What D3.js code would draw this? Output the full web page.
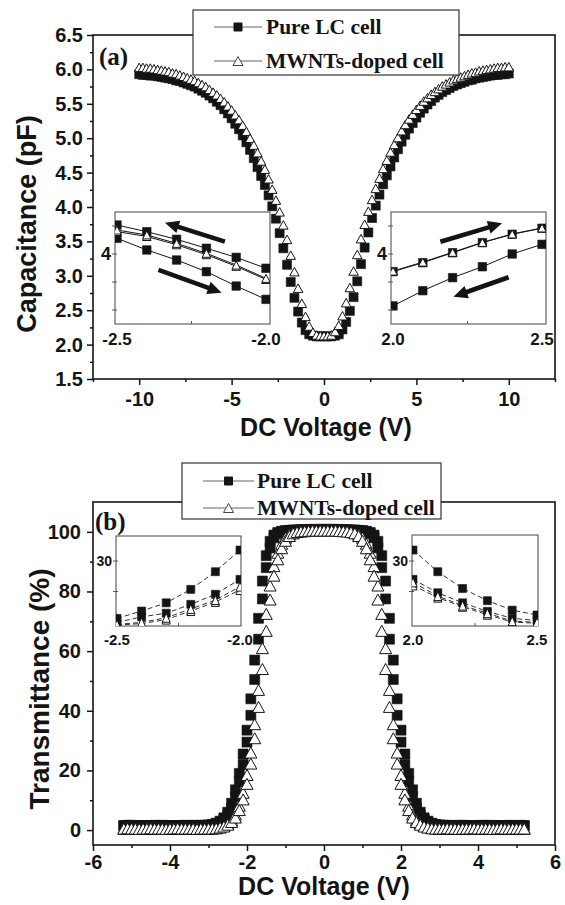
<!DOCTYPE html>
<html><head><meta charset="utf-8">
<script src="https://cdn.jsdelivr.net/npm/d3@7/dist/d3.min.js"></script>
<style>html,body{margin:0;padding:0;background:#fff;}svg{display:block;}</style>
</head><body>
<svg id="chart" width="565" height="905"></svg>
<script>
// ---------------- DATA ----------------
// Panel (a): capacitance vs DC voltage
const voltageA = [-10,-9.8,-9.6,-9.4,-9.2,-9,-8.8,-8.6,-8.4,-8.2,-8,-7.8,-7.6,-7.4,-7.2,-7,-6.8,-6.6,-6.4,-6.2,-6,-5.8,-5.6,-5.4,-5.2,-5,-4.8,-4.6,-4.4,-4.2,-4,-3.8,-3.6,-3.4,-3.2,-3,-2.8,-2.6,-2.4,-2.2,-2,-1.8,-1.6,-1.4,-1.2,-1,-0.8,-0.6,-0.4,-0.2,0,0.2,0.4,0.6,0.8,1,1.2,1.4,1.6,1.8,2,2.2,2.4,2.6,2.8,3,3.2,3.4,3.6,3.8,4,4.2,4.4,4.6,4.8,5,5.2,5.4,5.6,5.8,6,6.2,6.4,6.6,6.8,7,7.2,7.4,7.6,7.8,8,8.2,8.4,8.6,8.8,9,9.2,9.4,9.6,9.8,10];
const capPure = [5.93,5.92,5.92,5.91,5.91,5.90,5.89,5.88,5.87,5.86,5.84,5.83,5.81,5.79,5.77,5.75,5.72,5.69,5.66,5.62,5.58,5.53,5.48,5.42,5.36,5.29,5.21,5.13,5.04,4.94,4.83,4.71,4.58,4.45,4.32,4.17,4.01,3.83,3.62,3.40,3.16,2.91,2.68,2.48,2.32,2.21,2.15,2.13,
  2.12,2.12,2.12,2.12,2.12,
  2.13,2.15,2.22,2.33,2.49,2.69,2.92,3.17,3.41,3.63,3.84,4.02,4.18,4.33,4.46,4.59,4.72,4.84,4.95,5.05,5.14,5.22,5.30,5.37,5.43,5.49,5.54,5.59,5.63,5.67,5.70,5.73,5.76,5.78,5.80,5.82,5.84,5.85,5.87,5.88,5.89,5.90,5.91,5.92,5.92,5.93,5.93,5.94];
const capDoped = [6.03,6.03,6.02,6.02,6.01,6.00,5.99,5.98,5.97,5.95,5.94,5.92,5.90,5.88,5.86,5.84,5.81,5.78,5.75,5.71,5.67,5.63,5.58,5.53,5.47,5.41,5.34,5.27,5.19,5.10,5.00,4.90,4.79,4.67,4.55,4.41,4.26,4.10,3.93,3.74,3.53,3.30,3.06,2.82,2.60,2.41,2.27,2.18,
  2.14,2.13,2.13,2.13,2.14,
  2.19,2.28,2.42,2.61,2.83,3.07,3.31,3.54,3.75,3.94,4.11,4.27,4.42,4.56,4.68,4.80,4.91,5.01,5.11,5.20,5.28,5.35,5.42,5.48,5.54,5.59,5.64,5.68,5.72,5.76,5.79,5.82,5.85,5.87,5.89,5.91,5.93,5.95,5.96,5.98,5.99,6.00,6.01,6.02,6.03,6.03,6.04,6.04];

// Panel (a) insets
const insetA_leftV = [-2.5,-2.4,-2.3,-2.2,-2.1,-2.0];
const insetA_leftPureUp = [4.207,4.159,4.105,4.041,3.976,3.898];
const insetA_leftDopedUp = [4.171,4.136,4.076,4.005,3.921,3.826];
const insetA_leftDopedDown = [4.160,4.125,4.066,3.995,3.912,3.818];
const insetA_leftPureDown = [4.112,4.029,3.957,3.874,3.771,3.676];
const insetA_rightV = [2.0,2.1,2.2,2.3,2.4,2.5];
const insetA_rightPureUp = [3.874,3.938,4.009,4.081,4.141,4.184];
const insetA_rightDoped = [3.878,3.942,4.012,4.083,4.143,4.186];
const insetA_rightPureDown = [3.629,3.738,3.831,3.909,4.000,4.069];
const arrowsA_left = [[-2.138,4.088,-2.339,4.224],[-2.361,3.886,-2.149,3.724]];
const arrowsA_right = [[2.159,4.088,2.366,4.219],[2.388,3.834,2.203,3.695]];

// Panel (b): transmittance vs DC voltage (two sweeps per cell)
const voltageB = [-5.2,-5.1,-5,-4.9,-4.8,-4.7,-4.6,-4.5,-4.4,-4.3,-4.2,-4.1,-4,-3.9,-3.8,-3.7,-3.6,-3.5,-3.4,-3.3,-3.2,-3.1,-3,-2.9,-2.8,-2.7,-2.6,-2.5,-2.4,-2.3,-2.2,-2.1,-2,-1.9,-1.8,-1.7,-1.6,-1.5,-1.4,-1.3,-1.2,-1.1,-1,-0.9,-0.8,-0.7,-0.6,-0.5,-0.4,-0.3,-0.2,-0.1,0,0.1,0.2,0.3,0.4,0.5,0.6,0.7,0.8,0.9,1,1.1,1.2,1.3,1.4,1.5,1.6,1.7,1.8,1.9,2,2.1,2.2,2.3,2.4,2.5,2.6,2.7,2.8,2.9,3,3.1,3.2,3.3,3.4,3.5,3.6,3.7,3.8,3.9,4,4.1,4.2,4.3,4.4,4.5,4.6,4.7,4.8,4.9,5,5.1,5.2];
const transPureA = [1.5,1.5,1.6,1.5,1.5,1.4,1.5,1.5,1.6,1.5,1.5,1.5,1.4,1.5,1.5,1.5,1.6,1.5,1.5,1.5,
  1.6,1.6,1.7,1.9,2.3,3.0,4.1,6.0,9.0,13.5,19,25.5,33.5,44,57,71,83.5,92,96.8,98.9,99.8,100.2,100.4,100.5,100.6,100.6,100.7,100.7,100.8,100.8,100.8,100.8,
  100.8,
  100.8,100.8,100.8,100.8,100.7,100.7,100.6,100.6,100.5,100.4,100.2,99.8,98.9,96.8,92,83.5,71,57,44,33.5,25.5,19,13.5,9.0,6.0,4.1,3.0,2.3,1.9,1.7,1.6,1.6,
  1.5,1.5,1.5,1.6,1.5,1.5,1.5,1.4,1.5,1.5,1.6,1.5,1.5,1.5,1.5,1.4,1.5,1.5,1.6,1.5];
const transPureB = [1.5,1.6,1.5,1.5,1.5,1.5,1.4,1.5,1.5,1.5,1.6,1.5,1.5,1.4,1.5,1.5,1.5,1.5,1.6,1.5,
  1.5,1.6,1.6,1.8,2.1,2.6,3.5,5.0,7.4,11.2,16.2,22,29.5,38.5,50.5,64,77.5,88,94.6,98.0,99.4,100.0,100.3,100.4,100.5,100.6,100.6,100.7,100.7,100.7,100.8,100.8,
  100.8,
  100.8,100.8,100.7,100.7,100.7,100.6,100.6,100.5,100.4,100.3,100.0,99.4,98.0,94.6,88,77.5,64,50.5,38.5,29.5,22,16.2,11.2,7.4,5.0,3.5,2.6,2.1,1.8,1.6,1.6,1.5,
  1.5,1.5,1.6,1.5,1.4,1.5,1.5,1.5,1.6,1.5,1.5,1.5,1.4,1.5,1.5,1.6,1.5,1.5,1.5,1.5];
const transDopedA = [0.5,0.5,0.6,0.5,0.5,0.4,0.5,0.5,0.5,0.6,0.5,0.5,0.4,0.5,0.5,0.5,0.6,0.5,0.5,0.5,0.5,0.6,0.5,0.6,
  0.7,1.0,1.4,2.1,3.3,5.2,8.2,12.5,18.5,26,35.5,47,61,72.5,82,88.5,93,96,98,99.2,99.8,100.1,100.3,100.4,100.5,100.5,100.5,100.5,
  100.5,
  100.5,100.5,100.5,100.5,100.4,100.3,100.1,99.8,99.2,98,96,93,88.5,82,72.5,61,47,35.5,26,18.5,12.5,8.2,5.2,3.3,2.1,1.4,1.0,0.7,
  0.6,0.5,0.5,0.5,0.6,0.5,0.5,0.4,0.5,0.5,0.5,0.6,0.5,0.5,0.5,0.4,0.5,0.5,0.6,0.5,0.5,0.5,0.5,0.5];
const transDopedB = [0.5,0.6,0.5,0.5,0.4,0.5,0.5,0.6,0.5,0.5,0.5,0.4,0.5,0.5,0.6,0.5,0.5,0.5,0.5,0.4,0.5,0.5,0.5,0.5,
  0.6,0.85,1.2,1.8,2.7,4.2,6.7,10.3,15.5,22.3,30.8,41.3,54,66.8,77.3,85.3,90.8,94.5,97.0,98.6,99.5,99.9,100.1,100.2,100.3,100.4,100.4,100.4,
  100.4,
  100.4,100.4,100.4,100.3,100.2,100.1,99.9,99.5,98.6,97.0,94.5,90.8,85.3,77.3,66.8,54,41.3,30.8,22.3,15.5,10.3,6.7,4.2,2.7,1.8,1.2,0.85,0.6,
  0.5,0.5,0.5,0.6,0.5,0.5,0.4,0.5,0.5,0.5,0.6,0.5,0.5,0.5,0.5,0.4,0.5,0.6,0.5,0.5,0.5,0.5,0.5,0.5];

// Panel (b) insets
const insetB_leftV = [-2.5,-2.4,-2.3,-2.2,-2.1,-2.0];
const insetB_leftPureA = [11.2,13.6,16.3,20.7,26.5,33.6];
const insetB_leftPureB = [9.9,11.7,12.9,15.8,19.1,24.0];
const insetB_leftDopedA = [9.2,9.9,11.4,14.3,17.2,21.6];
const insetB_leftDopedB = [9.0,9.5,10.8,13.6,16.6,20.5];
const insetB_rightV = [2.0,2.1,2.2,2.3,2.4,2.5];
const insetB_rightPureA = [33.6,26.5,21.0,17.0,13.9,12.3];
const insetB_rightPureB = [24.0,19.6,16.3,13.5,11.2,10.5];
const insetB_rightDopedA = [23.0,18.5,15.4,12.9,10.3,9.9];
const insetB_rightDopedB = [22.0,18.0,15.0,12.4,10.0,9.6];

// Tick values
const xMajorA = [-10,-5,0,5,10];
const xMinorA = [-12.5,-7.5,-2.5,2.5,7.5,12.5];
const yMajorA = [1.5,2,2.5,3,3.5,4,4.5,5,5.5,6,6.5];
const yMinorA = [1.75,2.25,2.75,3.25,3.75,4.25,4.75,5.25,5.75,6.25];
const xMajorB = [-6,-4,-2,0,2,4,6];
const xMinorB = [-5,-3,-1,1,3,5];
const yMajorB = [0,20,40,60,80,100];
const yMinorB = [10,30,50,70,90];

const seriesNames = ["Pure LC cell", "MWNTs-doped cell"];

// ---------------- DRAWING ----------------
const SANS = "'Liberation Sans', Arial, Helvetica, sans-serif";
const SERIF = "'Liberation Serif', 'Times New Roman', serif";
const INK = "#141414";
const svg = d3.select("#chart");
const defs = svg.append("defs");

const sqPath = s => `M${-s/2},${-s/2}h${s}v${s}h${-s}Z`;
const triPath = (w,h) => `M0,${-h/2}L${w/2},${h/2}L${-w/2},${h/2}Z`;

function markers(g, xs, ys, x, y, type, w, h) {
  g.append("g").selectAll("path").data(xs.map((v,i)=>[v, ys[i]])).join("path")
    .attr("d", type === "sq" ? sqPath(w) : triPath(w, h))
    .attr("transform", d => `translate(${x(d[0])},${y(d[1])})`)
    .attr("fill", type === "sq" ? INK : "#fff")
    .attr("stroke", INK)
    .attr("stroke-width", type === "sq" ? 0.6 : 1);
}

function axesFrame(g, x, y, o) {
  const [x0, x1] = x.range();
  const [y0, y1] = y.range();
  const styleAxis = sel => {
    sel.select(".domain").remove();
    sel.selectAll("line").attr("stroke", INK).attr("stroke-width", 1.5);
    sel.selectAll("text").attr("fill", INK);
    sel.attr("font-family", SANS).attr("font-size", o.tickFont).attr("font-weight", "bold");
  };
  g.append("g").attr("transform", `translate(0,${y0})`)
    .call(d3.axisBottom(x).tickValues(o.xMinor).tickSize(3).tickSizeOuter(0).tickFormat(""))
    .call(styleAxis);
  g.append("g").attr("transform", `translate(0,${y0})`)
    .call(d3.axisBottom(x).tickValues(o.xMajor).tickSize(6).tickSizeOuter(0).tickPadding(o.xPad).tickFormat(d => String(d)))
    .call(styleAxis);
  g.append("g").attr("transform", `translate(${x0},0)`)
    .call(d3.axisLeft(y).tickValues(o.yMinor).tickSize(3).tickSizeOuter(0).tickFormat(""))
    .call(styleAxis);
  g.append("g").attr("transform", `translate(${x0},0)`)
    .call(d3.axisLeft(y).tickValues(o.yMajor).tickSize(6).tickSizeOuter(0).tickPadding(o.yPad).tickFormat(o.yFmt))
    .call(styleAxis);
  g.append("rect").attr("x", x0).attr("y", y1).attr("width", x1 - x0).attr("height", y0 - y1)
    .attr("fill", "none").attr("stroke", INK).attr("stroke-width", 1.6);
}

function arrow(g, x1, y1, x2, y2) {
  const dx = x2 - x1, dy = y2 - y1, L = Math.hypot(dx, dy);
  const ux = dx / L, uy = dy / L, px = -uy, py = ux;
  const hl = 14, hw = 6.5, sw = 2.3;
  const bx = x2 - ux * hl, by = y2 - uy * hl;
  const pts = [
    [x1 + px*sw, y1 + py*sw], [bx + px*sw, by + py*sw], [bx + px*hw, by + py*hw], [x2, y2],
    [bx - px*hw, by - py*hw], [bx - px*sw, by - py*sw], [x1 - px*sw, y1 - py*sw]
  ];
  g.append("path").attr("d", "M" + pts.map(p => p.join(",")).join("L") + "Z").attr("fill", INK);
}

function inset(parent, cfg) {
  const g = parent.append("g");
  const x = d3.scaleLinear().domain(cfg.xDom).range(cfg.xRange);
  const y = d3.scaleLinear().domain(cfg.yDom).range(cfg.yRange);
  const b = cfg.box;
  g.append("rect").attr("x", b[0]).attr("y", b[1]).attr("width", b[2]-b[0]).attr("height", b[3]-b[1])
    .attr("fill", "#fff").attr("stroke", "#555").attr("stroke-width", 1.1);
  defs.append("clipPath").attr("id", cfg.id).append("rect")
    .attr("x", b[0]).attr("y", b[1]).attr("width", b[2]-b[0]).attr("height", b[3]-b[1]);
  const dg = g.append("g").attr("clip-path", `url(#${cfg.id})`);
  const line = d3.line().x(d => x(d[0])).y(d => y(d[1]));
  cfg.series.forEach(s => {
    dg.append("path").attr("d", line(cfg.v.map((v,i)=>[v, s.vals[i]])))
      .attr("fill", "none").attr("stroke", cfg.lineColor).attr("stroke-width", 1)
      .attr("stroke-dasharray", cfg.dash || null);
  });
  cfg.series.filter(s => s.type === "sq").forEach(s => markers(dg, cfg.v, s.vals, x, y, "sq", cfg.sq));
  cfg.series.filter(s => s.type === "tri").forEach(s => markers(dg, cfg.v, s.vals, x, y, "tri", cfg.tw, cfg.th));
  cfg.xLabels.forEach(v => {
    g.append("text").attr("x", x(v)).attr("y", b[3] + cfg.xLabelDy).attr("text-anchor", "middle")
      .attr("font-family", SANS).attr("font-weight", "bold").attr("font-size", cfg.xFont).attr("fill", INK)
      .text(v.toFixed(1));
  });
  g.append("line").attr("x1", x((cfg.xDom[0]+cfg.xDom[1])/2)).attr("x2", x((cfg.xDom[0]+cfg.xDom[1])/2))
    .attr("y1", b[3]).attr("y2", b[3]-3).attr("stroke", "#555");
  cfg.yTicks.forEach(v => {
    g.append("line").attr("x1", b[0]-3).attr("x2", b[0]+2).attr("y1", y(v)).attr("y2", y(v)).attr("stroke", "#555");
  });
  g.append("text").attr("x", b[0] - 4).attr("y", y(cfg.yLabel)).attr("dy", "0.36em").attr("text-anchor", "end")
    .attr("font-family", SANS).attr("font-weight", "bold").attr("font-size", cfg.yFont).attr("fill", INK)
    .text(String(cfg.yLabel));
  return { g, x, y };
}

function legend(g, cfg) {
  g.append("rect").attr("x", cfg.box[0]).attr("y", cfg.box[1]).attr("width", cfg.box[2]).attr("height", cfg.box[3])
    .attr("fill", "#fff").attr("stroke", "#333").attr("stroke-width", 1.2);
  cfg.rows.forEach((r, i) => {
    const yy = cfg.rowY[i];
    g.append("line").attr("x1", cfg.lx0).attr("x2", cfg.lx1).attr("y1", yy).attr("y2", yy)
      .attr("stroke", "#666").attr("stroke-width", 1.2);
    const mx = (cfg.lx0 + cfg.lx1) / 2;
    g.append("path").attr("d", r.type === "sq" ? sqPath(cfg.sq) : triPath(cfg.tw, cfg.th))
      .attr("transform", `translate(${mx},${yy})`)
      .attr("fill", r.type === "sq" ? INK : "#fff").attr("stroke", r.type === "sq" ? INK : "#444").attr("stroke-width", 1);
    g.append("text").attr("x", cfg.tx).attr("y", yy + cfg.textDy).attr("font-family", SERIF)
      .attr("font-weight", "bold").attr("font-size", cfg.font).attr("fill", INK).text(r.name);
  });
}

// ===== Panel (a) =====
const xA = d3.scaleLinear().domain([-12.5, 12.5]).range([93, 555]);
const yA = d3.scaleLinear().domain([1.5, 6.5]).range([379, 35]);
const gA = svg.append("g");
axesFrame(gA, xA, yA, {xMajor: xMajorA, xMinor: xMinorA, yMajor: yMajorA, yMinor: yMinorA,
  yFmt: d3.format(".1f"), tickFont: 20, xPad: 7, yPad: 4});

const inAL = inset(gA, {id: "cAL", box: [115, 212, 270, 324], xDom: [-2.5, -2.0], xRange: [117, 266],
  yDom: [3.5, 4.3], yRange: [324, 212], v: insetA_leftV, lineColor: INK, sq: 8.5, tw: 8.5, th: 8,
  series: [{type: "sq", vals: insetA_leftPureDown}, {type: "sq", vals: insetA_leftPureUp},
           {type: "tri", vals: insetA_leftDopedDown}, {type: "tri", vals: insetA_leftDopedUp}],
  xLabels: [-2.5, -2.0], xLabelDy: 21, xFont: 17, yTicks: [3.6, 3.8, 4.0, 4.2], yLabel: 4, yFont: 18});
arrowsA_left.forEach(a => arrow(inAL.g, inAL.x(a[0]), inAL.y(a[1]), inAL.x(a[2]), inAL.y(a[3])));

const inAR = inset(gA, {id: "cAR", box: [391, 212, 546, 324], xDom: [2.0, 2.5], xRange: [393, 542],
  yDom: [3.5, 4.3], yRange: [324, 212], v: insetA_rightV, lineColor: INK, sq: 8.5, tw: 8.5, th: 8,
  series: [{type: "sq", vals: insetA_rightPureDown}, {type: "sq", vals: insetA_rightPureUp},
           {type: "tri", vals: insetA_rightDoped}],
  xLabels: [2.0, 2.5], xLabelDy: 21, xFont: 17, yTicks: [3.6, 3.8, 4.0, 4.2], yLabel: 4, yFont: 18});
arrowsA_right.forEach(a => arrow(inAR.g, inAR.x(a[0]), inAR.y(a[1]), inAR.x(a[2]), inAR.y(a[3])));

markers(gA, voltageA, capPure, xA, yA, "sq", 9);
markers(gA, voltageA, capDoped, xA, yA, "tri", 9.5, 8.5);

legend(gA, {box: [193, 10, 266, 65], rowY: [27, 61], lx0: 214, lx1: 262, tx: 266, textDy: 7, font: 21.5,
  sq: 8, tw: 10, th: 9, rows: [{type: "sq", name: seriesNames[0]}, {type: "tri", name: seriesNames[1]}]});

gA.append("text").attr("x", 99).attr("y", 65).attr("font-family", SERIF).attr("font-weight", "bold")
  .attr("font-size", 25).attr("fill", INK).text("(a)");
gA.append("text").attr("x", 326).attr("y", 436).attr("text-anchor", "middle").attr("font-family", SANS)
  .attr("font-weight", "bold").attr("font-size", 25).attr("fill", INK).text("DC Voltage (V)");
gA.append("text").attr("transform", "translate(36,224) rotate(-90)").attr("text-anchor", "middle")
  .attr("font-family", SANS).attr("font-weight", "bold").attr("font-size", 27).attr("fill", INK)
  .text("Capacitance (pF)");

// ===== Panel (b) =====
const xB = d3.scaleLinear().domain([-6, 6]).range([93, 555]);
const yB = d3.scaleLinear().domain([-5, 110]).range([845, 502]);
const gB = svg.append("g");
axesFrame(gB, xB, yB, {xMajor: xMajorB, xMinor: xMinorB, yMajor: yMajorB, yMinor: yMinorB,
  yFmt: d => String(d), tickFont: 20, xPad: 4, yPad: 6});

inset(gB, {id: "cBL", box: [116, 536, 241, 626], xDom: [-2.5, -2.0], xRange: [117, 240],
  yDom: [8.7, 38.2], yRange: [626, 536], v: insetB_leftV, lineColor: "#333", dash: "5,3", sq: 8, tw: 8, th: 9,
  series: [{type: "sq", vals: insetB_leftPureA}, {type: "sq", vals: insetB_leftPureB},
           {type: "tri", vals: insetB_leftDopedB}, {type: "tri", vals: insetB_leftDopedA}],
  xLabels: [-2.5, -2.0], xLabelDy: 19, xFont: 15, yTicks: [20, 30], yLabel: 30, yFont: 14});

inset(gB, {id: "cBR", box: [412, 535, 538, 626], xDom: [2.0, 2.5], xRange: [413, 537],
  yDom: [8.7, 38.2], yRange: [626, 536], v: insetB_rightV, lineColor: "#333", dash: "5,3", sq: 8, tw: 8, th: 9,
  series: [{type: "sq", vals: insetB_rightPureA}, {type: "sq", vals: insetB_rightPureB},
           {type: "tri", vals: insetB_rightDopedB}, {type: "tri", vals: insetB_rightDopedA}],
  xLabels: [2.0, 2.5], xLabelDy: 19, xFont: 15, yTicks: [20, 30], yLabel: 30, yFont: 14});

markers(gB, voltageB, transPureA, xB, yB, "sq", 10);
markers(gB, voltageB, transPureB, xB, yB, "sq", 10);
markers(gB, voltageB, transDopedA, xB, yB, "tri", 12, 11);
markers(gB, voltageB, transDopedB, xB, yB, "tri", 12, 11);

legend(gB, {box: [182, 463, 259, 56], rowY: [481, 508], lx0: 203, lx1: 254, tx: 257, textDy: 7, font: 21.5,
  sq: 8, tw: 10, th: 9, rows: [{type: "sq", name: seriesNames[0]}, {type: "tri", name: seriesNames[1]}]});

gB.append("text").attr("x", 95).attr("y", 530).attr("font-family", SERIF).attr("font-weight", "bold")
  .attr("font-size", 25).attr("fill", INK).text("(b)");
gB.append("text").attr("x", 324).attr("y", 895).attr("text-anchor", "middle").attr("font-family", SANS)
  .attr("font-weight", "bold").attr("font-size", 25).attr("fill", INK).text("DC Voltage (V)");
gB.append("text").attr("transform", "translate(49,689) rotate(-90)").attr("text-anchor", "middle")
  .attr("font-family", SANS).attr("font-weight", "bold").attr("font-size", 28).attr("fill", INK)
  .text("Transmittance (%)");
</script>
</body></html>
